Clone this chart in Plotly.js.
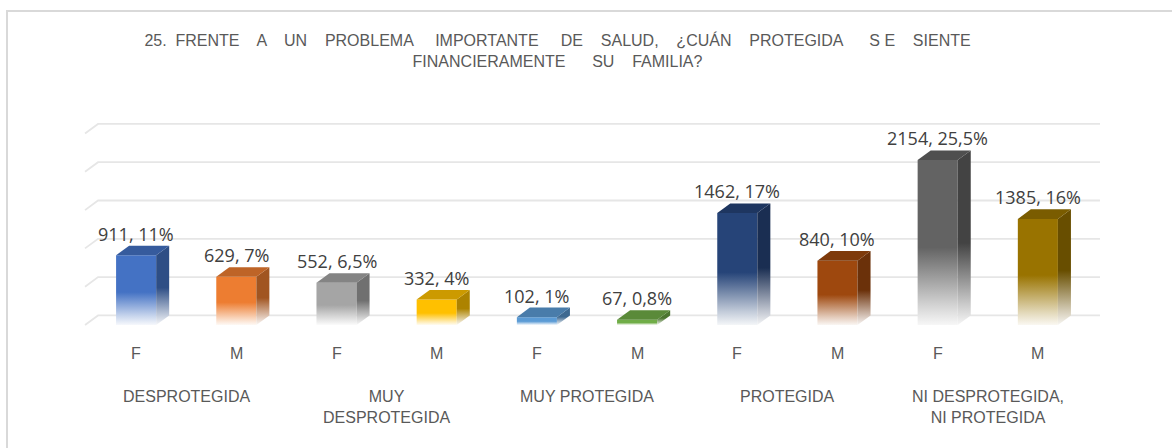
<!DOCTYPE html>
<html>
<head>
<meta charset="utf-8">
<script src="https://cdn.plot.ly/plotly-3.0.1.min.js"></script>
<style>
  html, body { margin: 0; padding: 0; background: #ffffff; }
  #frame { position: absolute; left: 6px; top: 10px; width: 1170px; height: 440px;
           border-top: 2px solid #d9d9d9; border-left: 2px solid #d9d9d9; box-sizing: border-box; }
  #chart { position: absolute; left: 0; top: 0; width: 1172px; height: 448px; }
</style>
</head>
<body>
<div id="frame"></div>
<div id="chart"></div>
<script>
// ---------------- data ----------------
const categories = ['DESPROTEGIDA', 'MUY<br>DESPROTEGIDA', 'MUY PROTEGIDA', 'PROTEGIDA', 'NI DESPROTEGIDA,<br>NI PROTEGIDA'];
const sexes = ['F', 'M'];
const counts = [911, 629, 552, 332, 102, 67, 1462, 840, 2154, 1385];
const percentLabels = ['11%', '7%', '6,5%', '4%', '1%', '0,8%', '17%', '10%', '25,5%', '16%'];
const gridTicks = [0, 500, 1000, 1500, 2000, 2500];

// ---------------- styles ----------------
const frontColors = ['#4472C4', '#ED7D31', '#A5A5A5', '#FFC000', '#5B9BD5', '#70AD47', '#264478', '#9E480E', '#636363', '#997300'];

function hexToRgb(h) { h = h.replace('#', ''); return [parseInt(h.substr(0,2),16), parseInt(h.substr(2,2),16), parseInt(h.substr(4,2),16)]; }
function rgbStr(c) { return 'rgb(' + c.map(v => Math.round(v)).join(',') + ')'; }
function shadeHex(h, f) { return '#' + hexToRgb(h).map(x => Math.round(x * f).toString(16).padStart(2, '0')).join(''); }
function tint(h, t) { return rgbStr(hexToRgb(h).map(v => v + (255 - v) * t)); }

const halfW = 0.2;      // half bar width (x units)
const depthX = 0.13;    // 3D depth in x units
const depthY = 125;     // 3D depth in y units
const xRange = [-0.6, 9.65];
const yRange = [-65.3, 2937.3];

const traces = [];

// gridlines on back wall + side-wall diagonals
gridTicks.forEach(v => {
  traces.push({
    type: 'scatter', mode: 'lines',
    x: [xRange[0] + 0.09, xRange[0] + 0.09 + depthX, xRange[1] - 0.03],
    y: [v, v + depthY, v + depthY],
    line: { color: '#e6e6e6', width: 1.8 },
    hoverinfo: 'skip', showlegend: false
  });
});

const annotations = [];
const fadeScale = (base) => [[0, tint(base, 0.95)], [0.12, tint(base, 0.72)], [0.47, base], [1, base]];

counts.forEach((v, i) => {
  const c = i;
  const col = frontColors[i];
  // front face
  traces.push({
    type: 'scatter', mode: 'none', fill: 'toself',
    x: [c - halfW, c + halfW, c + halfW, c - halfW, c - halfW],
    y: [0, 0, v, v, 0],
    fillcolor: col,
    fillgradient: { type: 'vertical', colorscale: fadeScale(col) },
    hoverinfo: 'skip', showlegend: false
  });
  // side face
  const sideHex = shadeHex(col, 0.68);
  traces.push({
    type: 'scatter', mode: 'none', fill: 'toself',
    x: [c + halfW, c + halfW + depthX, c + halfW + depthX, c + halfW, c + halfW],
    y: [0, depthY, v + depthY, v, 0],
    fillcolor: sideHex,
    fillgradient: { type: 'vertical', colorscale: fadeScale(sideHex) },
    hoverinfo: 'skip', showlegend: false
  });
  // top face
  traces.push({
    type: 'scatter', mode: 'none', fill: 'toself',
    x: [c - halfW, c + halfW, c + halfW + depthX, c - halfW + depthX, c - halfW],
    y: [v, v, v + depthY, v + depthY, v],
    fillcolor: shadeHex(col, 0.8),
    hoverinfo: 'skip', showlegend: false
  });
  // data label
  annotations.push({
    x: c, y: v + depthY, xref: 'x', yref: 'y', yshift: 12, yanchor: 'middle',
    text: v + ', ' + percentLabels[i], showarrow: false,
    font: { family: 'Open Sans, Liberation Sans, sans-serif', size: 18, color: '#404040' }
  });
  // sex label
  annotations.push({
    x: c, y: -0.104, xref: 'x', yref: 'paper', yanchor: 'middle',
    text: sexes[i % 2], showarrow: false,
    font: { family: 'Liberation Sans, sans-serif', size: 16, color: '#595959' }
  });
});

categories.forEach((name, g) => {
  annotations.push({
    x: 2 * g + 0.5, y: -0.245, xref: 'x', yref: 'paper', yanchor: 'top',
    text: name, showarrow: false, align: 'center',
    font: { family: 'Liberation Sans, sans-serif', size: 16, color: '#595959' }
  });
});

const layout = {
  width: 1172, height: 448,
  margin: { l: 76.4, r: 68.6, t: 100, b: 118, pad: 0 },
  paper_bgcolor: 'rgba(0,0,0,0)', plot_bgcolor: 'rgba(0,0,0,0)',
  title: {
    text: '25.  FRENTE    A    UN    PROBLEMA     IMPORTANTE     DE    SALUD,    ¿CUÁN    PROTEGIDA      S E    SIENTE<br>FINANCIERAMENTE      SU    FAMILIA?',
    x: 0.4757, xanchor: 'center', xref: 'container',
    y: 0.897, yanchor: 'top', yref: 'container',
    font: { family: 'Liberation Sans, sans-serif', size: 16, color: '#595959' }
  },
  xaxis: { range: xRange, visible: false, fixedrange: true },
  yaxis: { range: yRange, visible: false, fixedrange: true },
  showlegend: false,
  hovermode: false,
  annotations: annotations
};

Plotly.newPlot('chart', traces, layout, { displayModeBar: false, staticPlot: true });
</script>
</body>
</html>
